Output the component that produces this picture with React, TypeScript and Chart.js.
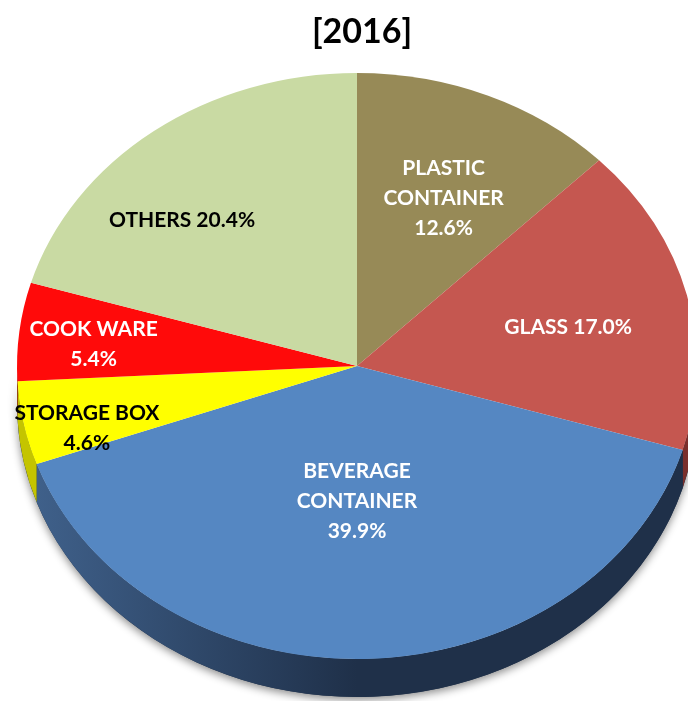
import { useEffect, useRef } from "react";
import { Chart, registerables } from "chart.js";

Chart.register(...registerables);

const chartTitle = "[2016]";
const categories = ["PLASTIC CONTAINER", "GLASS", "BEVERAGE CONTAINER", "STORAGE BOX", "COOK WARE", "OTHERS"];
const values = [12.6, 17.0, 39.9, 4.6, 5.4, 20.4];
const nameLines = [["PLASTIC", "CONTAINER"], ["GLASS"], ["BEVERAGE", "CONTAINER"], ["STORAGE BOX"], ["COOK WARE"], ["OTHERS"]];
const pctInline = [false, true, false, false, false, true];
const topColors = ["#978a57", "#c55750", "#5587c2", "#ffff00", "#ff0a0a", "#c9daa3"];
const sideColors = ["#6b6139", "#7a2f2c", "#1f3049", "#c4c400", "#b80000", "#8fa070"];
const labelColors = ["#ffffff", "#ffffff", "#ffffff", "#000000", "#ffffff", "#000000"];

// layout constants (not data)
const TILT = 293 / 340;
const DEPTH = 38;
const LABEL_FACTORS: [number, number][] = [
  [0.66, 0.62],
  [0.64, 0.55],
  [0, 0.46],
  [0.81, 1.08],
  [0.78, 0.64],
  [0.86, 0.62],
];
const FONT = "Lato, 'Open Sans', sans-serif";

const pie3d = {
  id: "pie3d",
  beforeDatasetsDraw(chart: any) {
    const ctx: CanvasRenderingContext2D = chart.ctx;
    const arcs = chart.getDatasetMeta(0).data;
    ctx.save();
    if (!arcs.length) return;
    const { x: cx, y: cy, outerRadius: R } = arcs[0];
    const ry = R * TILT;
    ctx.save();
    ctx.shadowColor = "rgba(0,0,0,0.45)";
    ctx.shadowBlur = 8;
    ctx.shadowOffsetY = 3;
    ctx.beginPath();
    ctx.ellipse(cx, cy, R, ry, 0, 0, Math.PI, false);
    ctx.ellipse(cx, cy + DEPTH, R, ry, 0, Math.PI, 0, true);
    ctx.closePath();
    ctx.fillStyle = "#1f3049";
    ctx.fill();
    ctx.restore();
    arcs.forEach((arc: any, i: number) => {
      const a0 = Math.max(arc.startAngle, 0);
      const a1 = Math.min(arc.endAngle, Math.PI);
      if (a1 <= a0) return;
      ctx.beginPath();
      ctx.ellipse(cx, cy, R, ry, 0, a0, a1, false);
      ctx.ellipse(cx, cy + DEPTH, R, ry, 0, a1, a0, true);
      ctx.closePath();
      if (i === 2) {
        const g = ctx.createLinearGradient(cx - R, 0, cx, 0);
        g.addColorStop(0, "#41638e");
        g.addColorStop(1, sideColors[i]);
        ctx.fillStyle = g;
      } else {
        ctx.fillStyle = sideColors[i];
      }
      ctx.fill();
    });
    ctx.translate(cx, cy);
    ctx.scale(1, TILT);
    ctx.translate(-cx, -cy);
  },
  afterDatasetsDraw(chart: any) {
    const ctx: CanvasRenderingContext2D = chart.ctx;
    ctx.restore();
    const arcs = chart.getDatasetMeta(0).data;
    if (!arcs.length) return;
    const { x: cx, y: cy, outerRadius: R } = arcs[0];
    const ry = R * TILT;
    ctx.save();
    ctx.font = `bold 21px ${FONT}`;
    ctx.textAlign = "center";
    ctx.textBaseline = "middle";
    arcs.forEach((arc: any, i: number) => {
      const mid = (arc.startAngle + arc.endAngle) / 2;
      const [fx, fy] = LABEL_FACTORS[i];
      const x = cx + R * fx * Math.cos(mid);
      const y = cy + ry * fy * Math.sin(mid);
      const pct = values[i].toFixed(1) + "%";
      const lines = pctInline[i] ? [nameLines[i].join(" ") + " " + pct] : [...nameLines[i], pct];
      ctx.fillStyle = labelColors[i];
      lines.forEach((ln, j) => {
        ctx.fillText(ln, x, y + (j - (lines.length - 1) / 2) * 30);
      });
    });
    ctx.restore();
  },
  afterDraw(chart: any) {
    const ctx: CanvasRenderingContext2D = chart.ctx;
    ctx.save();
    ctx.font = `bold 34px ${FONT}`;
    ctx.fillStyle = "#000";
    ctx.textAlign = "center";
    ctx.textBaseline = "middle";
    ctx.fillText(chartTitle, 362, 32);
    ctx.restore();
  },
};

export default function App() {
  const ref = useRef<HTMLCanvasElement>(null);
  useEffect(() => {
    if (!ref.current) return;
    const chart = new Chart(ref.current, {
      type: "pie",
      data: {
        labels: categories,
        datasets: [
          {
            data: values,
            backgroundColor: topColors,
            borderWidth: 0,
            clip: false as any,
          },
        ],
      },
      options: {
        responsive: false,
        animation: false,
        layout: { padding: { left: 17, right: 23, top: 26, bottom: 14 } },
        plugins: {
          legend: { display: false },
          tooltip: { enabled: false },
          title: { display: false },
        },
      },
      plugins: [pie3d],
    });
    return () => chart.destroy();
  }, []);
  return (
    <div style={{ position: "absolute", left: 0, top: 0, width: 688, height: 701, overflow: "hidden", background: "#fff" }}>
      <canvas ref={ref} width={720} height={720} style={{ display: "block" }} />
    </div>
  );
}
